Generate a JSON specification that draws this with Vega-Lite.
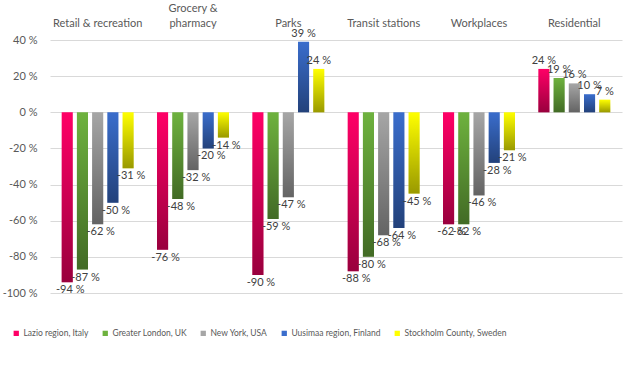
{
  "$schema": "https://vega.github.io/schema/vega-lite/v6.json",
  "width": 572,
  "height": 253,
  "autosize": {"type": "none"},
  "padding": {"left": 50, "top": 40, "right": 19, "bottom": 80},
  "background": "white",
  "config": {
    "font": "Lato",
    "view": {"stroke": null},
    "axis": {"labelFont": "Lato", "labelColor": "#595959", "labelFontSize": 11}
  },
  "data": {
    "values": [
      {"category": "Retail & recreation", "region": "Lazio region, Italy", "value": -94},
      {"category": "Retail & recreation", "region": "Greater London, UK", "value": -87},
      {"category": "Retail & recreation", "region": "New York, USA", "value": -62},
      {"category": "Retail & recreation", "region": "Uusimaa region, Finland", "value": -50},
      {"category": "Retail & recreation", "region": "Stockholm County, Sweden", "value": -31},
      {"category": "Grocery & pharmacy", "region": "Lazio region, Italy", "value": -76},
      {"category": "Grocery & pharmacy", "region": "Greater London, UK", "value": -48},
      {"category": "Grocery & pharmacy", "region": "New York, USA", "value": -32},
      {"category": "Grocery & pharmacy", "region": "Uusimaa region, Finland", "value": -20},
      {"category": "Grocery & pharmacy", "region": "Stockholm County, Sweden", "value": -14},
      {"category": "Parks", "region": "Lazio region, Italy", "value": -90},
      {"category": "Parks", "region": "Greater London, UK", "value": -59},
      {"category": "Parks", "region": "New York, USA", "value": -47},
      {"category": "Parks", "region": "Uusimaa region, Finland", "value": 39},
      {"category": "Parks", "region": "Stockholm County, Sweden", "value": 24},
      {"category": "Transit stations", "region": "Lazio region, Italy", "value": -88},
      {"category": "Transit stations", "region": "Greater London, UK", "value": -80},
      {"category": "Transit stations", "region": "New York, USA", "value": -68},
      {"category": "Transit stations", "region": "Uusimaa region, Finland", "value": -64},
      {"category": "Transit stations", "region": "Stockholm County, Sweden", "value": -45},
      {"category": "Workplaces", "region": "Lazio region, Italy", "value": -62},
      {"category": "Workplaces", "region": "Greater London, UK", "value": -62},
      {"category": "Workplaces", "region": "New York, USA", "value": -46},
      {"category": "Workplaces", "region": "Uusimaa region, Finland", "value": -28},
      {"category": "Workplaces", "region": "Stockholm County, Sweden", "value": -21},
      {"category": "Residential", "region": "Lazio region, Italy", "value": 24},
      {"category": "Residential", "region": "Greater London, UK", "value": 19},
      {"category": "Residential", "region": "New York, USA", "value": 16},
      {"category": "Residential", "region": "Uusimaa region, Finland", "value": 10},
      {"category": "Residential", "region": "Stockholm County, Sweden", "value": 7}
    ]
  },
  "transform": [{"calculate": "datum.value + ' %'", "as": "label"}],
  "encoding": {
    "x": {
      "field": "category",
      "type": "nominal",
      "sort": ["Retail & recreation", "Grocery & pharmacy", "Parks", "Transit stations", "Workplaces", "Residential"],
      "scale": {"paddingInner": 0.245, "paddingOuter": 0.1225},
      "axis": {
        "orient": "top",
        "title": null,
        "domain": false,
        "ticks": false,
        "labelAngle": 0,
        "labelPadding": 27,
        "labelLineHeight": 15,
        "labelExpr": "datum.label == 'Grocery & pharmacy' ? ['Grocery &', 'pharmacy'] : ['', datum.label]"
      }
    },
    "xOffset": {
      "field": "region",
      "type": "nominal",
      "sort": ["Lazio region, Italy", "Greater London, UK", "New York, USA", "Uusimaa region, Finland", "Stockholm County, Sweden"],
      "scale": {"paddingInner": 0.27, "paddingOuter": 0}
    },
    "y": {
      "field": "value",
      "type": "quantitative",
      "scale": {"domain": [-100, 40], "nice": false},
      "axis": {
        "title": null,
        "values": [-100, -80, -60, -40, -20, 0, 20, 40],
        "domain": false,
        "ticks": false,
        "labelPadding": 13,
        "gridColor": "#D9D9D9",
        "labelExpr": "datum.value + ' %'"
      }
    }
  },
  "layer": [
    {
      "mark": {"type": "bar"},
      "encoding": {
        "color": {
          "field": "region",
          "type": "nominal",
          "sort": ["Lazio region, Italy", "Greater London, UK", "New York, USA", "Uusimaa region, Finland", "Stockholm County, Sweden"],
          "scale": {
            "domain": ["Lazio region, Italy", "Greater London, UK", "New York, USA", "Uusimaa region, Finland", "Stockholm County, Sweden"],
            "range": ["#FF0066", "#6EB23E", "#A6A6A6", "#3A6DCC", "#FFFF00"]
          },
          "legend": {
            "title": null,
            "orient": "none",
            "direction": "horizontal",
            "legendX": -38,
            "legendY": 289,
            "padding": 0,
            "symbolType": "square",
            "symbolSize": 28,
            "symbolStrokeWidth": 0,
            "labelFontSize": 8.5,
            "labelColor": "#595959",
            "labelOffset": 3,
            "columnPadding": 12
          }
        }
      }
    },
    {
      "mark": {
        "type": "bar",
        "fill": {
          "gradient": "linear",
          "x1": 0, "y1": 0, "x2": 0, "y2": 1,
          "stops": [
            {"offset": 0, "color": "rgba(0,0,0,0)"},
            {"offset": 1, "color": "rgba(0,0,0,0.4)"}
          ]
        }
      }
    },
    {
      "transform": [{"filter": "datum.value < 0"}],
      "mark": {"type": "text", "baseline": "top", "align": "center", "dy": 2, "dx": 3, "fontSize": 11, "color": "#404040"},
      "encoding": {"text": {"field": "label"}}
    },
    {
      "transform": [{"filter": "datum.value >= 0"}],
      "mark": {"type": "text", "baseline": "bottom", "align": "center", "dy": -3, "fontSize": 11, "color": "#404040"},
      "encoding": {"text": {"field": "label"}}
    }
  ]
}
